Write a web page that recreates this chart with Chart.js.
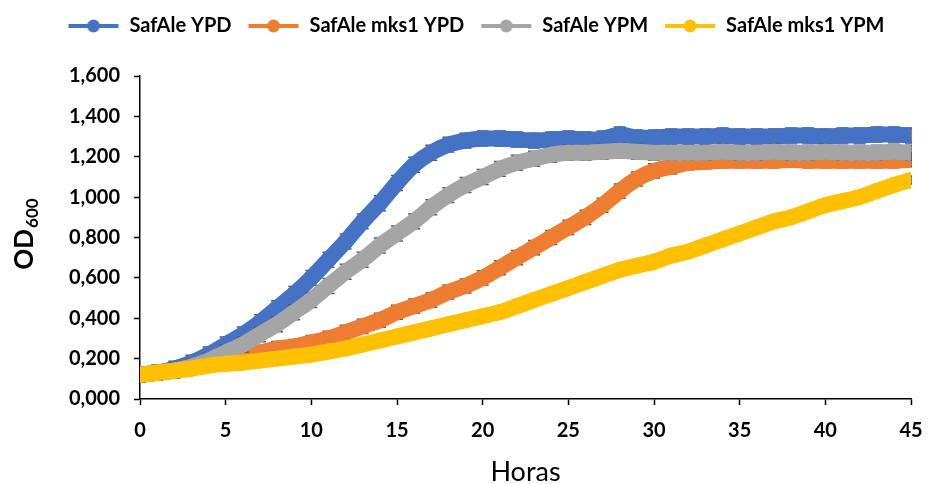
<!DOCTYPE html>
<html>
<head>
<meta charset="utf-8">
<script src="https://cdn.jsdelivr.net/npm/chart.js@4.4.1/dist/chart.umd.min.js"></script>
<style>
  html, body { margin: 0; padding: 0; background: #fff; }
  #wrap { width: 928px; height: 484px; }
</style>
</head>
<body>
<div id="wrap"><canvas id="myChart" width="928" height="484"></canvas></div>
<script>
// ----------- DATA -------------
const horas = [0, 1, 2, 3, 4, 5, 6, 7, 8, 9, 10, 11, 12, 13, 14, 15, 16, 17, 18, 19, 20, 21, 22,
  23, 24, 25, 26, 27, 28, 29, 30, 31, 32, 33, 34, 35, 36, 37, 38, 39, 40, 41, 42, 43, 44, 45];

const safaleYPD = [0.12, 0.13, 0.15, 0.18, 0.22, 0.27, 0.32, 0.38, 0.45, 0.52, 0.60, 0.69, 0.78,
  0.88, 0.97, 1.07, 1.16, 1.22, 1.26, 1.28, 1.29, 1.29, 1.285, 1.28, 1.285, 1.29, 1.285, 1.29,
  1.31, 1.295, 1.295, 1.30, 1.30, 1.30, 1.305, 1.30, 1.30, 1.30, 1.305, 1.305, 1.30, 1.305,
  1.305, 1.31, 1.31, 1.305];

const mks1YPD = [0.12, 0.13, 0.14, 0.16, 0.18, 0.20, 0.22, 0.23, 0.25, 0.26, 0.28, 0.30, 0.33,
  0.36, 0.39, 0.43, 0.46, 0.49, 0.53, 0.56, 0.60, 0.65, 0.70, 0.75, 0.80, 0.85, 0.90, 0.96,
  1.03, 1.09, 1.13, 1.15, 1.17, 1.175, 1.18, 1.18, 1.18, 1.18, 1.185, 1.18, 1.18, 1.18,
  1.18, 1.18, 1.18, 1.185];

const safaleYPM = [0.12, 0.13, 0.14, 0.16, 0.19, 0.23, 0.27, 0.32, 0.37, 0.43, 0.49, 0.56, 0.63,
  0.69, 0.76, 0.82, 0.88, 0.95, 1.01, 1.06, 1.10, 1.14, 1.17, 1.19, 1.21, 1.22, 1.22, 1.225,
  1.23, 1.225, 1.22, 1.22, 1.22, 1.22, 1.225, 1.22, 1.22, 1.225, 1.22, 1.22, 1.225, 1.22,
  1.22, 1.22, 1.225, 1.22];

const mks1YPM = [0.12, 0.13, 0.14, 0.15, 0.165, 0.175, 0.18, 0.19, 0.20, 0.21, 0.22, 0.235, 0.25,
  0.27, 0.29, 0.31, 0.33, 0.35, 0.37, 0.39, 0.41, 0.43, 0.46, 0.49, 0.52, 0.55, 0.58, 0.61,
  0.64, 0.66, 0.68, 0.71, 0.73, 0.76, 0.79, 0.82, 0.85, 0.88, 0.90, 0.93, 0.96, 0.98,
  1.00, 1.03, 1.06, 1.085];

// desviación (barras de error) por serie
const erroresSD = [0.037, 0.035, 0.037, 0.02];

const etiquetas = ['SafAle YPD', 'SafAle mks1 YPD', 'SafAle YPM', 'SafAle mks1 YPM'];
const colores = ['#4472C4', '#ED7D31', '#A5A5A5', '#FFC000'];
const series = [safaleYPD, mks1YPD, safaleYPM, mks1YPM];

// ----------- HELPERS -------------
function toPoints(arr) {
  return arr.map((v, i) => ({ x: horas[i], y: v }));
}

// legend marker: short line with a dot in the middle
function legendMarker(color) {
  const c = document.createElement('canvas');
  c.width = 52; c.height = 14;
  const g = c.getContext('2d');
  g.strokeStyle = color;
  g.lineWidth = 4;
  g.beginPath(); g.moveTo(1, 7); g.lineTo(51, 7); g.stroke();
  g.fillStyle = color;
  g.beginPath(); g.arc(26, 7, 6.5, 0, Math.PI * 2); g.fill();
  return c;
}

const datasets = series.map((arr, i) => ({
  label: etiquetas[i],
  data: toPoints(arr),
  borderColor: colores[i],
  backgroundColor: colores[i],
  borderWidth: 16,
  pointRadius: 8,
  pointBorderWidth: 0,
  pointHoverRadius: 8,
  tension: 0.2,
  // yellow on top, then gray, orange, blue (like Excel)
  order: 3 - i
}));

// ----------- PLUGINS -------------
const errorBars = {
  id: 'errorBars',
  beforeDatasetDraw(chart, args) {
    const i = args.index;
    const sd = erroresSD[i];
    const ys = chart.scales.y;
    const a = chart.chartArea;
    const ctx = chart.ctx;
    ctx.save();
    ctx.beginPath();
    ctx.rect(a.left + 1, a.top, a.right - a.left, a.bottom - a.top);
    ctx.clip();
    ctx.strokeStyle = '#595959';
    ctx.lineWidth = 1.5;
    args.meta.data.forEach((pt, k) => {
      const v = series[i][k];
      const yTop = ys.getPixelForValue(v + sd);
      const yBot = ys.getPixelForValue(v - sd);
      ctx.beginPath();
      ctx.moveTo(pt.x, yTop); ctx.lineTo(pt.x, yBot);
      ctx.moveTo(pt.x - 6, yTop); ctx.lineTo(pt.x + 6, yTop);
      ctx.moveTo(pt.x - 6, yBot); ctx.lineTo(pt.x + 6, yBot);
      ctx.stroke();
    });
    ctx.restore();
  }
};

const yTitle = {
  id: 'yTitle',
  afterDraw(chart) {
    const ctx = chart.ctx;
    const a = chart.chartArea;
    ctx.save();
    ctx.translate(25, (a.top + a.bottom) / 2 - 3);
    ctx.rotate(-Math.PI / 2);
    ctx.fillStyle = '#000';
    ctx.textBaseline = 'middle';
    ctx.font = 'bold 26px Lato';
    const w1 = ctx.measureText('OD').width;
    ctx.font = 'bold 17px Lato';
    const w2 = ctx.measureText('600').width;
    const x0 = -(w1 + w2) / 2;
    ctx.font = 'bold 26px Lato';
    ctx.fillText('OD', x0, 0);
    ctx.font = 'bold 17px Lato';
    ctx.fillText('600', x0 + w1 + 1, 8);
    ctx.restore();
  }
};

const legendHeight = {
  id: 'legendHeight',
  beforeInit(chart) {
    const lg = chart.legend;
    const fit = lg.fit;
    lg.fit = function () {
      fit.call(this);
      this.height = 76;
    };
  }
};

// ----------- CONFIG -------------
const config = {
  type: 'line',
  data: { datasets: datasets },
  options: {
    responsive: false,
    animation: false,
    layout: { padding: { top: 0, right: 17, bottom: 0, left: 41 } },
    scales: {
      x: {
        type: 'linear',
        min: 0,
        max: 45,
        afterFit(scale) { scale.height = 85; scale.paddingRight = 0; scale.paddingLeft = 0; },
        ticks: {
          stepSize: 5,
          padding: 14,
          color: '#000',
          font: { family: 'Lato', size: 20, weight: 'bold' }
        },
        grid: { drawOnChartArea: false, tickLength: 6, tickColor: '#000', tickWidth: 1.5 },
        border: { color: '#000', width: 1.5 },
        title: {
          display: true,
          text: 'Horas',
          color: '#000',
          padding: { top: 0, bottom: -4 },
          font: { family: 'Lato', size: 27 }
        }
      },
      y: {
        min: 0,
        max: 1.6,
        afterFit(scale) { scale.width = 99; },
        ticks: {
          stepSize: 0.2,
          padding: 14,
          color: '#000',
          font: { family: 'Lato', size: 20, weight: 'bold' },
          callback: v => v.toFixed(3).replace('.', ',')
        },
        grid: { drawOnChartArea: false, tickLength: 6, tickColor: '#000', tickWidth: 1.5 },
        border: { color: '#000', width: 1.5 }
      }
    },
    plugins: {
      tooltip: { enabled: false },
      legend: {
        position: 'top',
        labels: {
          usePointStyle: true,
          pointStyleWidth: 52,
          padding: 16,
          color: '#000',
          font: { family: 'Lato', size: 20, weight: 'bold' },
          sort: (a, b) => a.datasetIndex - b.datasetIndex,
          generateLabels(chart) {
            const items = Chart.defaults.plugins.legend.labels.generateLabels(chart);
            items.forEach(it => { it.pointStyle = legendMarker(colores[it.datasetIndex]); });
            return items;
          }
        }
      }
    }
  },
  plugins: [errorBars, yTitle, legendHeight]
};

const myChart = new Chart(document.getElementById('myChart').getContext('2d'), config);
</script>
</body>
</html>
